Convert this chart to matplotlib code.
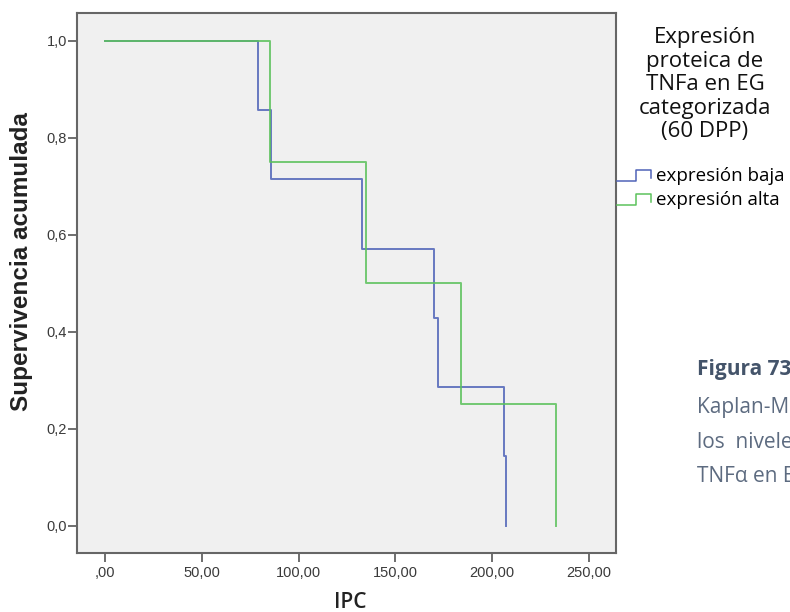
import matplotlib
matplotlib.use("Agg")
import matplotlib.pyplot as plt
from matplotlib.lines import Line2D
from matplotlib.legend_handler import HandlerBase
import numpy as np

# Event times (IPC) for each group; each event lowers survival by one step
times_baja = [79, 86, 133, 170, 172, 206, 207]
times_alta = [85, 135, 184, 233]
group_labels = ["expresión baja", "expresión alta"]
group_colors = ["#4f63b8", "#5cc25c"]

x_ticks = [0, 50, 100, 150, 200, 250]
x_ticklabels = [",00", "50,00", "100,00", "150,00", "200,00", "250,00"]
y_ticks = [0.0, 0.2, 0.4, 0.6, 0.8, 1.0]
y_ticklabels = ["0,0", "0,2", "0,4", "0,6", "0,8", "1,0"]

legend_title = "Expresión\nproteica de\nTNFa en EG\ncategorizada\n(60 DPP)"
caption_title = "Figura 73"
caption_lines = ["Kaplan-M", "los  nivele", "TNFα en E"]

W, H = 790, 612
AX_L, AX_R, AX_T, AX_B = 77.3, 616.0, 13.3, 552.7


def km_curve(times):
    n = len(times)
    xs = [0.0]
    ys = [1.0]
    for i, t in enumerate(times):
        xs += [t, t]
        ys += [ys[-1], (n - i - 1) / n]
    return xs, ys


class StepHandler(HandlerBase):
    def create_artists(self, legend, orig_handle, xdescent, ydescent,
                       width, height, fontsize, trans):
        x0 = -xdescent
        y0 = -ydescent
        xs = np.array([0.0, 0.55, 0.55, 0.97, 0.97]) * width + x0
        ys = np.array([0.0, 0.0, 0.85, 0.85, 0.25]) * height + y0
        ln = Line2D(xs, ys, color=orig_handle.get_color(), lw=1.1,
                    transform=trans)
        return [ln]


fig = plt.figure(figsize=(W / 100, H / 100), dpi=100)
fig.patch.set_facecolor("white")
ax = fig.add_axes([AX_L / W, 1 - AX_B / H, (AX_R - AX_L) / W, (AX_B - AX_T) / H])
ax.set_facecolor("#f0f0f0")

handles = []
for times, color, label in zip([times_baja, times_alta], group_colors, group_labels):
    xs, ys = km_curve(times)
    h, = ax.plot(xs, ys, color=color, lw=1.4, alpha=0.85, label=label)
    handles.append(h)

ax.set_xlim(-14.3, 264)
ax.set_ylim(-0.056, 1.057)
ax.set_xticks(x_ticks)
ax.set_xticklabels(x_ticklabels)
ax.set_yticks(y_ticks)
ax.set_yticklabels(y_ticklabels)
for lbl in ax.get_xticklabels() + ax.get_yticklabels():
    lbl.set_family("Liberation Sans")
    lbl.set_fontsize(10.5)
    lbl.set_color("#3a3a3a")
ax.tick_params(direction="out", length=6.5, width=1.2, color="#555555")
ax.tick_params(axis="x", pad=3)
ax.tick_params(axis="y", pad=1)
for sp in ax.spines.values():
    sp.set_color("#666666")
    sp.set_linewidth(1.5)

ax.set_ylabel("Supervivencia acumulada", family="Liberation Sans",
              fontsize=17.5, fontweight="bold", color="#222222", va="center")
ax.yaxis.set_label_coords((22 - AX_L) / (AX_R - AX_L), (AX_B - 262) / (AX_B - AX_T))
ax.set_xlabel("IPC", family="Open Sans", fontsize=15, color="#222222",
              fontweight="semibold", va="center")
ax.xaxis.set_label_coords((350 - AX_L) / (AX_R - AX_L), -(603 - AX_B) / (AX_B - AX_T))

fig.text(705 / W, 1 - 27 / H, legend_title, ha="center", va="top",
         family="Open Sans", fontsize=16, color="#111111", linespacing=1.16)

fig.legend(handles=handles, labels=group_labels,
           handler_map={Line2D: StepHandler()},
           loc="upper left", bbox_to_anchor=(617 / W, 1 - 167 / H),
           frameon=False, prop={"family": "Open Sans", "size": 13.5},
           handlelength=1.85, handletextpad=0.25, labelspacing=0.33,
           borderaxespad=0, borderpad=0.0)

fig.text(697 / W, 1 - 370 / H, caption_title, ha="left", va="center",
         family="Open Sans", fontsize=15, fontweight="bold", color="#44546a")
for i, line in enumerate(caption_lines):
    fig.text(697 / W, 1 - (408 + 34.5 * i) / H, line, ha="left",
             va="center", family="Open Sans", fontsize=15, color="#5d6b80")

fig.savefig("out.png", dpi=100, facecolor="white")
